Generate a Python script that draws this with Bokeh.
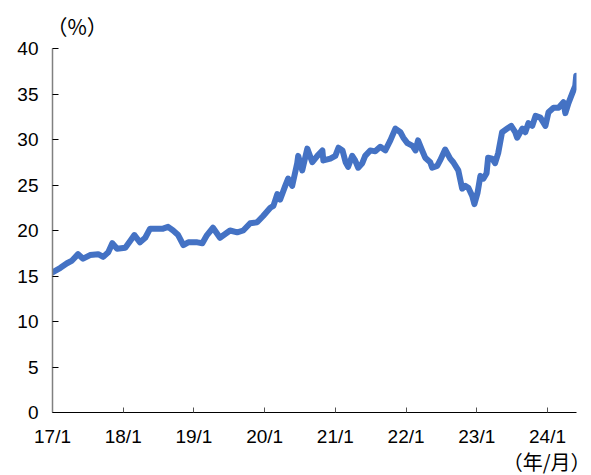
import pandas as pd
from bokeh.plotting import figure
from bokeh.models import Range1d, FixedTicker, Title
from bokeh.embed import file_html
from bokeh.resources import INLINE

dates = [
    "2017-01-01", "2017-02-11", "2017-03-17", "2017-04-12", "2017-05-13", "2017-06-08",
    "2017-07-14", "2017-08-25", "2017-09-20", "2017-10-16", "2017-11-06", "2017-12-01",
    "2018-01-12", "2018-02-08", "2018-02-28", "2018-03-29", "2018-04-25", "2018-05-20",
    "2018-06-25", "2018-07-26", "2018-08-21", "2018-09-16", "2018-10-12", "2018-11-08",
    "2018-12-03", "2019-01-19", "2019-02-14", "2019-03-10", "2019-04-10", "2019-05-16",
    "2019-07-07", "2019-08-13", "2019-09-13", "2019-10-19", "2019-11-24", "2019-12-25",
    "2020-01-31", "2020-02-16", "2020-03-07", "2020-03-22", "2020-04-17", "2020-05-02",
    "2020-05-23", "2020-06-18", "2020-06-23", "2020-07-14", "2020-08-09", "2020-09-04",
    "2020-09-30", "2020-10-26", "2020-10-31", "2020-12-06", "2021-01-01", "2021-01-17",
    "2021-02-07", "2021-02-23", "2021-03-08", "2021-03-29", "2021-04-13", "2021-04-29",
    "2021-05-20", "2021-06-04", "2021-06-30", "2021-07-26", "2021-08-21", "2021-09-16",
    "2021-10-12", "2021-11-07", "2021-12-03", "2021-12-18", "2022-01-08", "2022-02-04",
    "2022-02-19", "2022-03-04", "2022-03-25", "2022-04-10", "2022-05-06", "2022-05-16",
    "2022-06-11", "2022-06-26", "2022-07-22", "2022-08-17", "2022-09-02", "2022-09-28",
    "2022-10-18", "2022-11-03", "2022-11-19", "2022-12-09", "2022-12-20", "2023-01-05",
    "2023-01-20", "2023-02-05", "2023-02-21", "2023-03-01", "2023-03-22", "2023-04-06",
    "2023-04-22", "2023-05-12", "2023-06-08", "2023-06-28", "2023-07-19", "2023-07-29",
    "2023-08-25", "2023-09-09", "2023-09-25", "2023-10-15", "2023-11-01", "2023-11-26",
    "2023-12-22", "2024-01-07", "2024-02-02", "2024-02-28", "2024-03-24", "2024-04-03",
    "2024-04-19", "2024-05-09", "2024-05-24", "2024-05-29",
]
values = [
    15.4, 15.9, 16.4, 16.7, 17.4, 16.9,
    17.3, 17.4, 17.1, 17.6, 18.6, 18.0,
    18.1, 18.9, 19.5, 18.7, 19.2, 20.2,
    20.2, 20.2, 20.4, 20.0, 19.5, 18.4,
    18.7, 18.7, 18.6, 19.5, 20.3, 19.2,
    20.0, 19.8, 20.0, 20.8, 20.9, 21.6,
    22.5, 22.7, 24.0, 23.4, 24.9, 25.7,
    24.9, 27.4, 28.2, 26.6, 29.0, 27.5,
    28.2, 28.8, 27.7, 27.9, 28.2, 29.1,
    28.8, 27.5, 27.0, 28.2, 27.7, 26.9,
    27.4, 28.2, 28.8, 28.7, 29.2, 28.8,
    29.9, 31.2, 30.8, 30.2, 29.6, 29.3,
    28.8, 29.9, 28.8, 28.0, 27.5, 26.9,
    27.1, 27.7, 28.9, 27.9, 27.5, 26.6,
    24.6, 24.9, 24.7, 23.8, 22.9, 24.1,
    26.0, 25.7, 26.3, 28.0, 27.9, 27.4,
    28.5, 30.8, 31.2, 31.5, 30.8, 30.2,
    31.2, 30.8, 31.8, 31.5, 32.6, 32.4,
    31.5, 33.0, 33.5, 33.5, 34.1, 32.9,
    34.0, 35.1, 35.9, 37.0,
]
tick_years = [2017, 2018, 2019, 2020, 2021, 2022, 2023, 2024]
tick_labels = ["17/1", "18/1", "19/1", "20/1", "21/1", "22/1", "23/1", "24/1"]
y_ticks = [0, 5, 10, 15, 20, 25, 30, 35, 40]

base = pd.Timestamp("2017-01-01")
x = [(pd.Timestamp(d) - base).days / 365.25 for d in dates]
xt = [yr - 2017 for yr in tick_years]

p = figure(width=591, height=475, output_backend="svg", toolbar_location=None,
           x_range=Range1d(0, 7.41), y_range=Range1d(0, 40),
           min_border_left=52, min_border_right=15, min_border_top=48, min_border_bottom=63)
p.outline_line_color = None
p.xgrid.visible = False
p.ygrid.visible = False
p.background_fill_color = "white"
p.border_fill_color = "white"

p.line(x, values, line_width=6, color="#4472C4", line_join="round", line_cap="round")

font = "Liberation Sans"
p.xaxis.ticker = FixedTicker(ticks=xt)
p.xaxis.major_label_overrides = {v: l for v, l in zip(xt, tick_labels)}
p.xaxis.minor_tick_line_color = None
p.xaxis.major_tick_in = 5
p.xaxis.major_tick_out = 0
p.xaxis.axis_line_color = "black"
p.xaxis.major_tick_line_color = "#555555"
p.xaxis.major_label_standoff = 13
p.xaxis.major_label_text_font = font
p.xaxis.major_label_text_font_size = "19px"
p.xaxis.major_label_text_color = "black"

p.yaxis.ticker = FixedTicker(ticks=y_ticks)
p.yaxis.minor_tick_line_color = None
p.yaxis.major_tick_in = 6
p.yaxis.major_tick_out = 0
p.yaxis.axis_line_color = "#808080"
p.yaxis.axis_line_width = 1.5
p.yaxis.major_tick_line_color = "black"
p.yaxis.major_label_standoff = 14
p.yaxis.major_label_text_font = font
p.yaxis.major_label_text_font_size = "19px"
p.yaxis.major_label_text_color = "black"

p.add_layout(Title(text="（%）", align="left", offset=-6, text_font="Noto Sans CJK JP",
                   text_font_size="21px", text_font_style="normal", text_color="black",
                   standoff=15), "above")
p.add_layout(Title(text="（年/月）", align="right", offset=-14, text_font="Noto Sans CJK JP",
                   text_font_size="20px", text_font_style="normal", text_color="black",
                   standoff=-10), "below")

open("out.html", "w").write(file_html(p, INLINE))
